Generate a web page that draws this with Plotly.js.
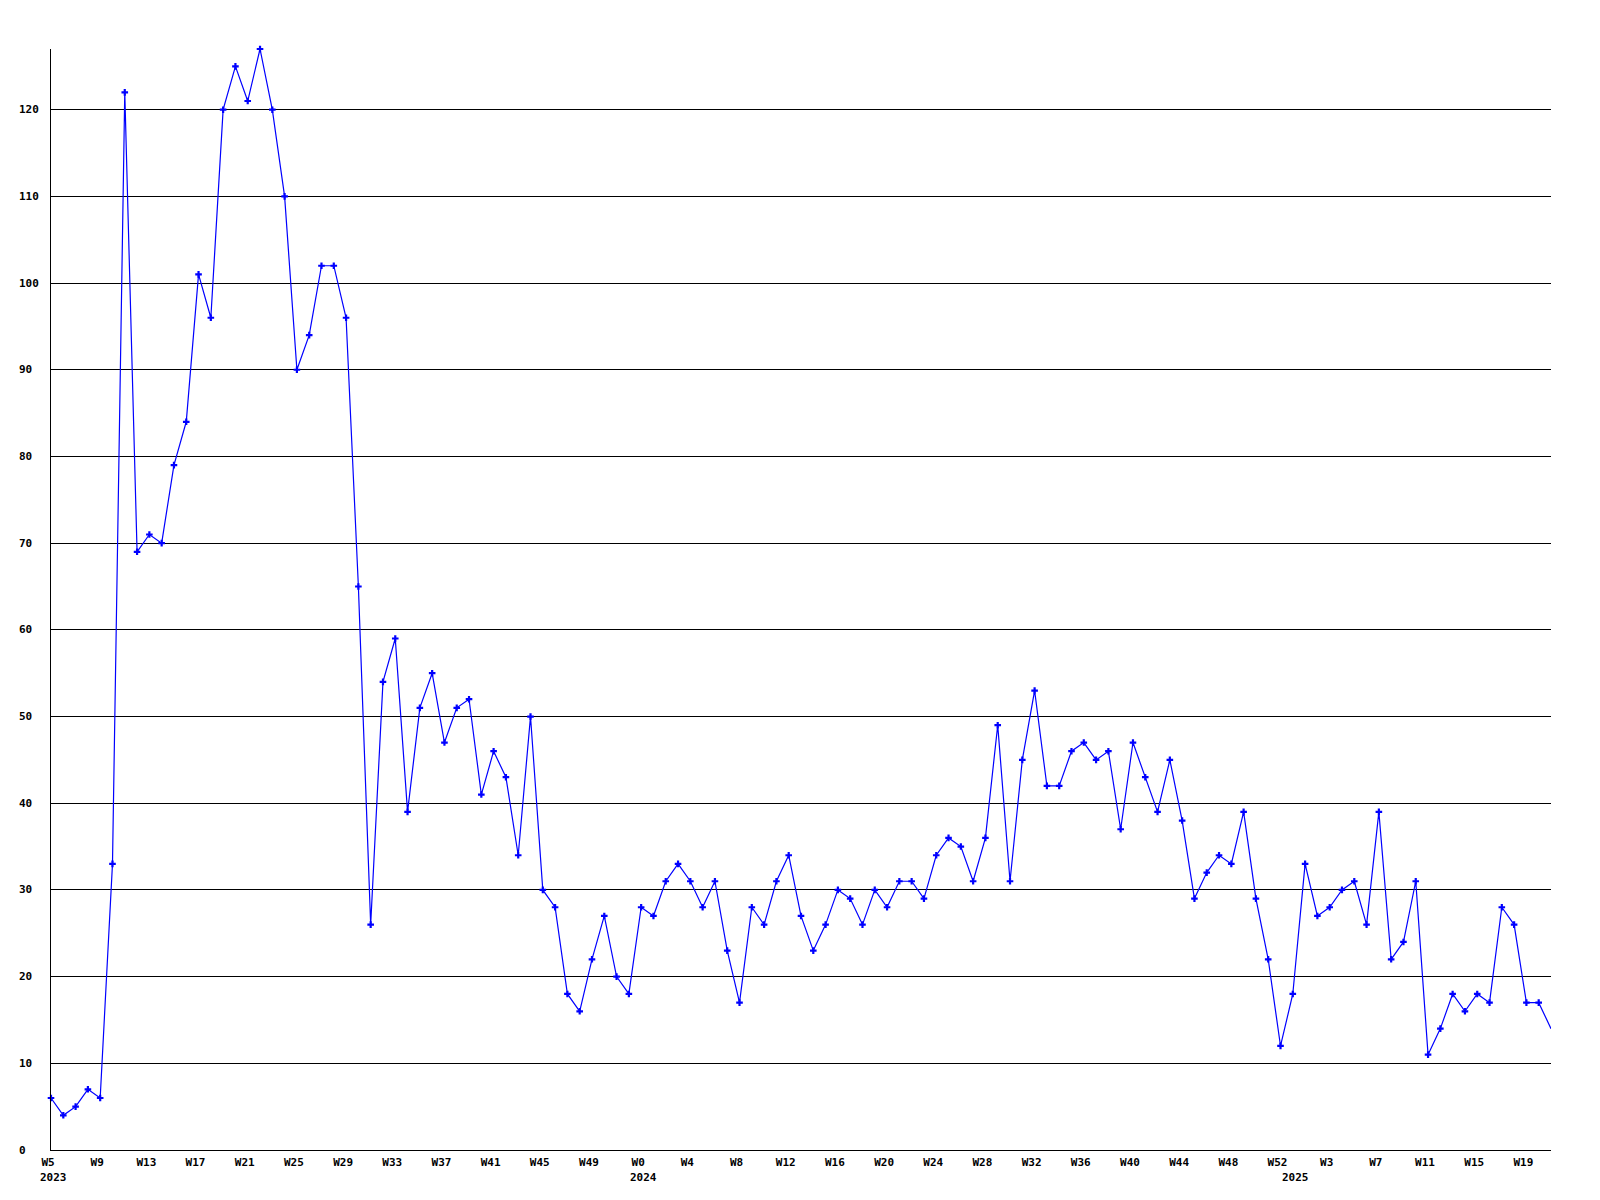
<!DOCTYPE html>
<html><head><meta charset="utf-8">
<script src="https://cdn.plot.ly/plotly-3.0.1.min.js"></script>
<style>html,body{margin:0;padding:0;background:#fff}#chart{width:1600px;height:1200px}</style>
</head><body><div id="chart"></div>
<script>
// Weekly values, W5 2023 .. W21 2025 (one per week)
const values = [6,4,5,7,6,33,122,69,71,70,
  79,84,101,96,120,125,121,127,120,110,
  90,94,102,102,96,65,26,54,59,39,
  51,55,47,51,52,41,46,43,34,50,
  30,28,18,16,22,27,20,18,28,27,
  31,33,31,28,31,23,17,28,26,31,
  34,27,23,26,30,29,26,30,28,31,
  31,29,34,36,35,31,36,49,31,45,
  53,42,42,46,47,45,46,37,47,43,
  39,45,38,29,32,34,33,39,29,22,
  12,18,33,27,28,30,31,26,39,22,
  24,31,11,14,18,16,18,17,28,26,
  17,17,14];
const weekTickIndex = [0,4,8,12,16,20,24,28,32,36,40,44,48,52,56,60,64,68,72,76,80,84,88,92,96,100,104,108,112,116,120];
const weekTickText = ['W5','W9','W13','W17','W21','W25','W29','W33','W37','W41','W45','W49','W0','W4','W8','W12','W16','W20','W24','W28','W32','W36','W40','W44','W48','W52','W3','W7','W11','W15','W19'];
const yearIndex = [0,48,101];
const yearText = ['2023','2024','2025'];
const yTickValues = [0,10,20,30,40,50,60,70,80,90,100,110,120];

const xIndex = values.map((v,i)=>i);
const labelFont = {family:'DejaVu Sans Mono', size:11, color:'#000', weight:'bold'};

const traces = [
  {x:xIndex, y:values, mode:'lines', line:{color:'#0000ff', width:1.2}, hoverinfo:'skip', cliponaxis:true},
  {x:xIndex.slice(0,-1), y:values.slice(0,-1), mode:'markers', marker:{symbol:'cross', size:5.5, color:'#0000ff'}, cliponaxis:false}
];

const annotations = [];
yTickValues.forEach(v=>annotations.push({xref:'paper', yref:'y', x:0, y:v, xanchor:'left', yanchor:'middle', xshift:-34, text:String(v), showarrow:false, font:labelFont}));
yearIndex.forEach((xi,k)=>annotations.push({xref:'x', yref:'paper', x:xi, y:0, xanchor:'left', yanchor:'top', xshift:-13, yshift:-19, text:yearText[k], showarrow:false, font:labelFont}));

const layout = {
  width:1600, height:1200,
  margin:{l:51, r:49, t:49, b:50},
  paper_bgcolor:'#fff', plot_bgcolor:'#fff',
  showlegend:false,
  xaxis:{range:[0,122], showgrid:false, zeroline:false, showline:true, linecolor:'#000', linewidth:1,
    tickmode:'array', tickvals:weekTickIndex, ticktext:weekTickText, ticks:'', tickfont:labelFont, ticklabelshift:-3, ticklabelstandoff:2},
  yaxis:{range:[0,127], tickmode:'array', tickvals:yTickValues, showticklabels:false, ticks:'', showgrid:true, gridcolor:'#000', gridwidth:1,
    zeroline:false, showline:true, linecolor:'#000', linewidth:1},
  annotations:annotations
};
Plotly.newPlot('chart', traces, layout, {displayModeBar:false, staticPlot:true});
</script></body></html>
